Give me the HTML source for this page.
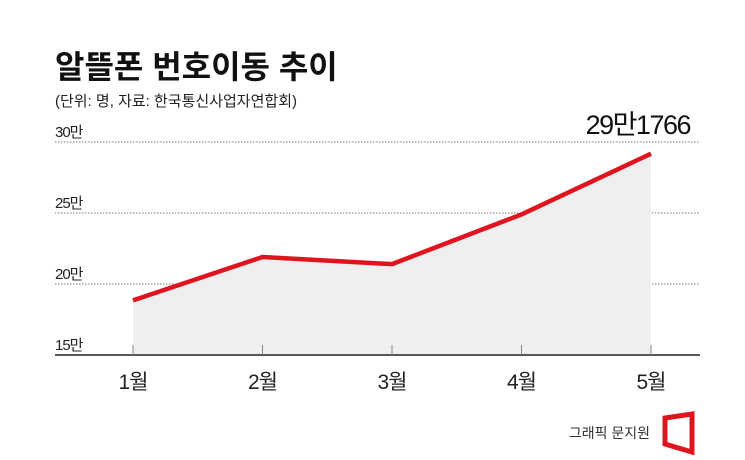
<!DOCTYPE html>
<html><head><meta charset="utf-8"><style>
body{margin:0;background:#fff;width:745px;height:455px;overflow:hidden;font-family:"Liberation Sans","Noto Sans CJK KR",sans-serif}
</style></head><body>
<svg width="745" height="455">
<text x="55" y="78" font-size="32" font-weight="bold" fill="#111" font-family="Liberation Sans, Noto Sans CJK KR, sans-serif">알뜰폰 번호이동 추이</text>
<text x="55" y="106" font-size="15" fill="#222" font-family="Liberation Sans, Noto Sans CJK KR, sans-serif">(단위: 명, 자료: 한국통신사업자연합회)</text>
<g id="grid"></g>
<g id="plot"></g>
<text x="690" y="134" text-anchor="end" font-size="27" fill="#111" letter-spacing="-1.5" font-family="Liberation Sans, Noto Sans CJK KR, sans-serif">29만1766</text>
<text x="650" y="438" text-anchor="end" font-size="14" fill="#333" font-family="Liberation Sans, Noto Sans CJK KR, sans-serif">그래픽 문지원</text>
<polygon points="665,418 692,414 692,452 665,444" fill="none" stroke="#e0141e" stroke-width="5"/>
</svg>
<script>
const categories=["1월","2월","3월","4월","5월"];
const values=[18.85,21.9,21.4,24.9,29.1766];
const yTicks=[15,20,25,30];
const yTickLabels=["15만","20만","25만","30만"];
const NS="http://www.w3.org/2000/svg";
const y=v=>355-(v-15)*14.2;
const x=i=>133+i*129.5;
function mk(t,a,p){const e=document.createElementNS(NS,t);for(const k in a)e.setAttribute(k,a[k]);p.appendChild(e);return e;}
const grid=document.getElementById('grid'),plot=document.getElementById('plot');
const F="Liberation Sans, Noto Sans CJK KR, sans-serif";
yTicks.forEach((t,i)=>{
 if(i>0){const l=mk('line',{x1:55,x2:700,y1:y(t),y2:y(t),stroke:'#777','stroke-width':1,'stroke-dasharray':'1.5,1.5'},grid);
 
 }
 const tx=mk('text',{x:55,y:y(t)-5,'font-size':15,fill:'#222','font-family':F,'letter-spacing':'-1'},grid);tx.textContent=yTickLabels[i];
 
 
});
let d=`M${x(0)},${y(15)}`;values.forEach((v,i)=>d+=` L${x(i)},${y(v)}`);d+=` L${x(values.length-1)},${y(15)} Z`;
const area=mk('path',{d:d,fill:'#efefef'},plot);


const ax=mk('line',{x1:55,x2:700,y1:355,y2:355,stroke:'#222','stroke-width':1.5},plot);


categories.forEach((c,i)=>{
 const tk=mk('line',{x1:x(i),x2:x(i),y1:345,y2:355,stroke:'#888','stroke-width':1},plot);
 
 
 const t=mk('text',{x:x(i),y:389,'text-anchor':'middle','font-size':21,fill:'#222','font-family':F,'letter-spacing':'-1'},plot);t.textContent=c;
 
 
});
const ln=mk('polyline',{points:values.map((v,i)=>x(i)+','+y(v)).join(' '),fill:'none',stroke:'#e0141e','stroke-width':4.5,'stroke-linejoin':'round'},plot);


</script>
</body></html>
